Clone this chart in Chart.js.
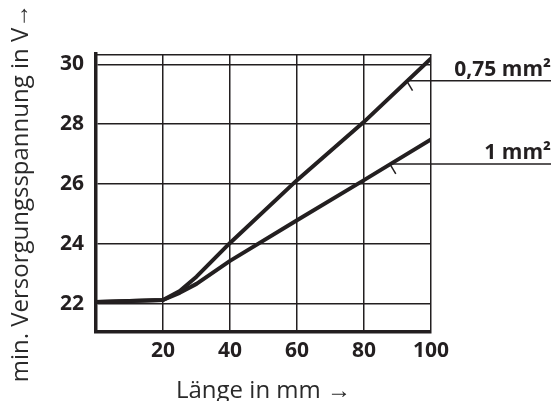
<!DOCTYPE html>
<html>
<head>
<meta charset="utf-8">
<script src="https://cdn.jsdelivr.net/npm/chart.js@4/dist/chart.umd.min.js"></script>
<style>
html,body{margin:0;padding:0;background:#fff;}
#wrap{width:555px;height:401px;}
</style>
</head>
<body>
<div id="wrap"><canvas id="c" width="555" height="401"></canvas></div>
<script>
// Data
const lengthsMM = [0, 20, 25, 30, 40, 60, 80, 100];
const voltage075 = [22.05, 22.12, 22.42, 22.9, 24.03, 26.13, 28.08, 30.2];
const voltage100 = [22.05, 22.12, 22.36, 22.66, 23.43, 24.79, 26.13, 27.49];
const seriesNames = ['0,75 mm²', '1 mm²'];
const labelAnchorX = [93, 88];
const xTicks = [20, 40, 60, 80, 100];
const yTicks = [22, 24, 26, 28, 30];
const xTitle = 'Länge in mm →';
const yTitle = 'min. Versorgungsspannung in V→';

const INK = '#231f20';
const series = [voltage075, voltage100];

function interp(xs, ys, x) {
  for (let i = 0; i < xs.length - 1; i++) {
    if (x >= xs[i] && x <= xs[i + 1]) {
      const t = (x - xs[i]) / (xs[i + 1] - xs[i]);
      return ys[i] + t * (ys[i + 1] - ys[i]);
    }
  }
  return ys[ys.length - 1];
}

const framePlugin = {
  id: 'frame',
  afterDatasetsDraw(chart) {
    const {ctx, chartArea, scales} = chart;
    ctx.save();
    ctx.strokeStyle = INK;
    ctx.lineWidth = 1.5;
    // top border
    ctx.beginPath();
    ctx.moveTo(chartArea.left, chartArea.top + 0.75);
    ctx.lineTo(chartArea.right, chartArea.top + 0.75);
    ctx.stroke();
    // series labels with leader lines
    const endX = chart.width - 4;
    series.forEach((ys, i) => {
      const ax = labelAnchorX[i];
      const px = scales.x.getPixelForValue(ax);
      const py = scales.y.getPixelForValue(interp(lengthsMM, ys, ax));
      ctx.lineWidth = 1.5;
      ctx.beginPath();
      ctx.moveTo(px, py);
      ctx.lineTo(endX, py);
      ctx.stroke();
      ctx.beginPath();
      ctx.moveTo(px - 1, py);
      ctx.lineTo(px + 5, py + 10);
      ctx.stroke();
      ctx.fillStyle = INK;
      ctx.font = 'bold 21px "Open Sans"';
      ctx.textAlign = 'right';
      ctx.textBaseline = 'alphabetic';
      ctx.fillText(seriesNames[i], endX, py - 5);
    });
    ctx.restore();
  }
};

new Chart(document.getElementById('c'), {
  type: 'line',
  data: {
    labels: lengthsMM,
    datasets: series.map((ys, i) => ({
      label: seriesNames[i],
      data: lengthsMM.map((x, j) => ({x: x, y: ys[j]})),
      borderColor: INK,
      borderWidth: 4,
      pointRadius: 0,
      tension: 0,
      borderJoinStyle: 'round',
      fill: false
    }))
  },
  options: {
    responsive: false,
    animation: false,
    devicePixelRatio: 1,
    layout: {padding: {top: 54, right: 124, left: 0, bottom: 0}},
    plugins: {legend: {display: false}, tooltip: {enabled: false}},
    scales: {
      x: {
        type: 'linear',
        min: 0,
        max: 100,
        afterBuildTicks: s => { s.ticks = xTicks.map(v => ({value: v})); },
        afterFit: s => { s.height = 69; },
        grid: {color: INK, lineWidth: 1.5, drawTicks: false},
        border: {color: INK, width: 3.5},
        ticks: {color: INK, padding: 6, maxRotation: 0, autoSkip: false,
          font: {family: 'Open Sans', size: 21, weight: 'bold'}},
        title: {display: true, text: xTitle, color: '#2a2a2a',
          font: {family: 'Open Sans', size: 24, weight: 'normal', lineHeight: 1.2},
          padding: {top: 0, bottom: -5}}
      },
      y: {
        type: 'linear',
        min: 21.05,
        max: 30.35,
        afterBuildTicks: s => { s.ticks = yTicks.map(v => ({value: v})); },
        afterFit: s => { s.width = 96; },
        grid: {color: INK, lineWidth: 1.5, drawTicks: false},
        border: {color: INK, width: 3.5},
        ticks: {color: INK, padding: 12, autoSkip: false,
          font: {family: 'Open Sans', size: 21, weight: 'bold'}},
        title: {display: true, text: yTitle, color: '#2a2a2a',
          font: {family: 'Open Sans', size: 24, weight: 'normal', lineHeight: 1.2},
          padding: {top: 7, bottom: 0}}
      }
    }
  },
  plugins: [framePlugin]
});
</script>
</body>
</html>
